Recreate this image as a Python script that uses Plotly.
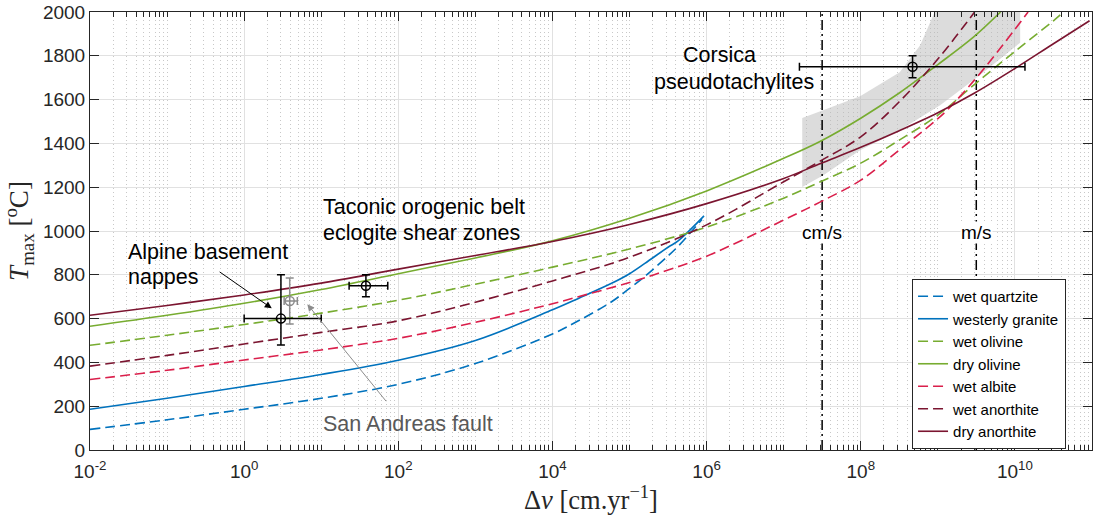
import math
import plotly.graph_objects as go

# ---- flow-law curves: slip velocity [cm/yr] -> maximum temperature [degC]
v_wet_quartzite = [1e-2, 1e-1, 1e0, 1e1, 1e2, 1e3, 1e4, 2.17e4, 5.85e4, 1e5, 1.58e5, 3.16e5, 4.27e5, 8.7e5]
T_wet_quartzite = [94, 138, 186, 236, 300, 395, 530, 590, 677, 738, 793, 886, 930, 1053]

v_westerly_granite = [1e-2, 1e-1, 1e0, 1e1, 1e2, 1e3, 1e4, 2.17e4, 5.85e4, 1e5, 1.58e5, 3.16e5, 4.27e5, 9.25e5]
T_westerly_granite = [186, 236, 290, 345, 410, 500, 640, 692, 761, 805, 852, 926, 955, 1069]

v_wet_olivine = [1e-2, 1e-1, 1e0, 1e1, 1e2, 1e3, 1e4, 1e5, 1e6, 1e7, 3.0e7, 1e8, 3.16e8,
                 1e9, 3.0e9, 1e10, 3.16e10, 4.27e10]
T_wet_olivine = [478, 524, 573, 625, 684, 757, 835, 918, 1018, 1150, 1225, 1310, 1415,
                 1529, 1670, 1820, 1960, 2000]

v_dry_olivine = [1e-2, 1e-1, 1e0, 1e1, 1e2, 1e3, 1e4, 1e5, 1e6, 1e7, 3.0e7, 1e8, 3.16e8, 1e9, 3.0e9, 6.5e9]
T_dry_olivine = [565, 615, 670, 733, 805, 877, 955, 1058, 1183, 1332, 1410, 1515, 1630, 1760, 1890, 2000]

v_wet_albite = [1e-2, 1e-1, 1e0, 1e1, 1e2, 1e3, 1e4, 2.17e4, 1e5, 3.16e5, 1e6, 1e7, 3.0e7, 1e8,
                3.16e8, 1e9, 1.38e9, 3.0e9, 6.3e9, 1.48e10]
T_wet_albite = [322, 364, 411, 457, 510, 583, 668, 700, 765, 822, 885, 1050, 1133, 1232,
                1370, 1513, 1559, 1690, 1830, 2000]

v_wet_anorthite = [1e-2, 1e-1, 1e0, 1e1, 1e2, 1e3, 1e4, 1e5, 1e6, 1e7, 3.0e7, 1e8, 3.16e8, 1e9, 3.0e9]
T_wet_anorthite = [383, 432, 484, 537, 590, 675, 772, 880, 1028, 1225, 1320, 1430, 1590, 1785, 2000]

v_dry_anorthite = [1e-2, 1e-1, 1e0, 1e1, 1e2, 1e3, 1e4, 1e5, 1e6, 1e7, 3.0e7, 1e8, 3.16e8, 1e9,
                   3.0e9, 1e10, 3.16e10, 9.3e10]
T_dry_anorthite = [615, 660, 708, 762, 826, 888, 952, 1030, 1125, 1240, 1308, 1382, 1458, 1540,
                   1630, 1742, 1855, 1960]

# ---- field estimates: centre, velocity range, temperature range
alpine_v, alpine_v_lo, alpine_v_hi = 3.0, 1.0, 10.0
alpine_T, alpine_T_lo, alpine_T_hi = 600, 480, 800

sanandreas_v, sanandreas_v_lo, sanandreas_v_hi = 3.9, 3.3, 4.9
sanandreas_T, sanandreas_T_lo, sanandreas_T_hi = 680, 575, 785

taconic_v, taconic_v_lo, taconic_v_hi = 38.0, 23.0, 73.0
taconic_T, taconic_T_lo, taconic_T_hi = 750, 700, 800

corsica_v, corsica_v_lo, corsica_v_hi = 4.7e8, 1.6e7, 1.35e10
corsica_T, corsica_T_lo, corsica_T_hi = 1750, 1700, 1800

# Corsica pseudotachylite envelope (outline, velocity / temperature)
corsica_band_v = [1.74e7, 1.74e7, 3.24e7, 9.8e7, 3.2e8, 5.9e8, 9.1e8, 1.17e10, 1.17e10,
                  3.5e9, 1.07e9, 3.2e8, 9.8e7, 3.27e7, 1.74e7]
corsica_band_T = [1201, 1516, 1551, 1615, 1725, 1848, 2000, 2000, 1860,
                  1711, 1574, 1460, 1369, 1255, 1201]

# reference velocities: 1 cm/s and 1 m/s expressed in cm/yr
v_cm_per_s = 3.1536e7
v_m_per_s = 3.1536e9

# axis ticks
x_tick_vals = [1e-2, 1e0, 1e2, 1e4, 1e6, 1e8, 1e10]
x_tick_text = ["10<sup>-2</sup>", "10<sup>0</sup>", "10<sup>2</sup>", "10<sup>4</sup>",
               "10<sup>6</sup>", "10<sup>8</sup>", "10<sup>10</sup>"]
y_tick_vals = [0, 200, 400, 600, 800, 1000, 1200, 1400, 1600, 1800, 2000]

BLUE = "#0072BD"
GREEN = "#77AC30"
CRIMSON = "#DA1F4B"
MAROON = "#7B1530"
AXIS = "#262626"
DASH = "10px,5px"
SANS = "Liberation Sans, Arial, sans-serif"
SERIF = "Liberation Serif, Times New Roman, serif"

fig = go.Figure()

# shaded envelope
fig.add_trace(go.Scatter(
    x=corsica_band_v, y=corsica_band_T, mode="lines", fill="toself",
    fillcolor="rgba(185,185,185,0.5)", line=dict(width=0), hoverinfo="skip",
    showlegend=False))

# vertical reference lines
for v in (v_cm_per_s, v_m_per_s):
    fig.add_trace(go.Scatter(
        x=[v, v], y=[0, 2000], mode="lines",
        line=dict(color="black", width=1.5, dash="10px,4px,2px,4px"),
        showlegend=False, hoverinfo="skip"))

curves = [
    ("wet quartzite", v_wet_quartzite, T_wet_quartzite, BLUE, DASH),
    ("westerly granite", v_westerly_granite, T_westerly_granite, BLUE, "solid"),
    ("wet olivine", v_wet_olivine, T_wet_olivine, GREEN, DASH),
    ("dry olivine", v_dry_olivine, T_dry_olivine, GREEN, "solid"),
    ("wet albite", v_wet_albite, T_wet_albite, CRIMSON, DASH),
    ("wet anorthite", v_wet_anorthite, T_wet_anorthite, MAROON, DASH),
    ("dry anorthite", v_dry_anorthite, T_dry_anorthite, MAROON, "solid"),
]
for name, vx, ty, color, dash in curves:
    fig.add_trace(go.Scatter(
        x=vx, y=ty, mode="lines", name=name,
        line=dict(color=color, width=1.6, dash=dash, shape="spline", smoothing=1.0)))


def estimate(v, vlo, vhi, t, tlo, thi, color):
    fig.add_trace(go.Scatter(
        x=[v], y=[t], mode="markers", showlegend=False,
        marker=dict(symbol="circle-open", size=9, color=color, line=dict(width=1.5, color=color)),
        error_x=dict(type="data", symmetric=False, array=[vhi - v], arrayminus=[v - vlo],
                     color=color, thickness=1.5, width=4),
        error_y=dict(type="data", symmetric=False, array=[thi - t], arrayminus=[t - tlo],
                     color=color, thickness=1.5, width=4)))


estimate(sanandreas_v, sanandreas_v_lo, sanandreas_v_hi,
         sanandreas_T, sanandreas_T_lo, sanandreas_T_hi, "#8c8c8c")
estimate(alpine_v, alpine_v_lo, alpine_v_hi, alpine_T, alpine_T_lo, alpine_T_hi, "black")
estimate(taconic_v, taconic_v_lo, taconic_v_hi, taconic_T, taconic_T_lo, taconic_T_hi, "black")
estimate(corsica_v, corsica_v_lo, corsica_v_hi, corsica_T, corsica_T_lo, corsica_T_hi, "black")

lg = math.log10


def label(text, v, t, anchor="left", size=21.5, color="black", bg=None):
    fig.add_annotation(x=lg(v), y=t, xref="x", yref="y", text=text, showarrow=False,
                       xanchor=anchor, yanchor="middle",
                       font=dict(family=SANS, size=size, color=color),
                       bgcolor=bg, borderpad=0)


label("Alpine basement", 0.030, 905)
label("nappes", 0.030, 789)
label("Taconic orogenic belt", 10.2, 1110)
label("eclogite shear zones", 10.2, 990)
label("Corsica", 1.49e6, 1804, anchor="center")
label("pseudotachylites", 2.24e6, 1682, anchor="center")
label("San Andreas fault", 10.2, 121, color="#595959")
label("cm/s", v_cm_per_s, 995, anchor="center", size=19, bg="white")
label("m/s", v_m_per_s, 995, anchor="center", size=19, bg="white")

# arrows pointing at the two small-scale estimates
fig.add_annotation(x=lg(2.28), y=647, ax=lg(0.46), ay=818, xref="x", yref="y",
                   axref="x", ayref="y", text="", showarrow=True, arrowhead=2,
                   arrowsize=1.4, arrowwidth=1, arrowcolor="black")
fig.add_annotation(x=lg(6.6), y=666, ax=lg(72), ay=216, xref="x", yref="y",
                   axref="x", ayref="y", text="", showarrow=True, arrowhead=2,
                   arrowsize=1.4, arrowwidth=1, arrowcolor="#8c8c8c")

fig.update_xaxes(
    type="log", range=[-2, 11], automargin=False,
    tickmode="array", tickvals=x_tick_vals, ticktext=x_tick_text,
    ticks="inside", ticklen=9, tickcolor=AXIS, tickwidth=1, ticklabelstandoff=4,
    showline=True, linecolor=AXIS, linewidth=1, mirror="allticks",
    showgrid=True, gridcolor="#e1e1e1", gridwidth=1,
    minor=dict(tickmode="linear", dtick="D1", ticks="inside", ticklen=5,
               tickcolor=AXIS, showgrid=True, gridcolor="#c8c8c8",
               griddash="1px,3px", gridwidth=1),
    tickfont=dict(family=SANS, size=19, color=AXIS),
    title=dict(text="\u0394<i>v</i> [cm.yr<sup>\u22121</sup>]",
               font=dict(family=SERIF, size=26.5, color=AXIS), standoff=6),
    zeroline=False)

fig.update_yaxes(
    range=[0, 2000], tickmode="array", tickvals=y_tick_vals, automargin=False,
    ticks="inside", ticklen=9, tickcolor=AXIS, tickwidth=1,
    showline=True, linecolor=AXIS, linewidth=1, mirror="allticks",
    showgrid=True, gridcolor="#e1e1e1", gridwidth=1,
    tickfont=dict(family=SANS, size=19, color=AXIS),
    title=dict(text="<i>T</i><sub>max</sub> [<sup>o</sup>C]",
               font=dict(family=SERIF, size=27, color=AXIS), standoff=8),
    zeroline=False)

fig.update_layout(
    width=1100, height=515,
    margin=dict(l=90, r=8, t=12, b=65),
    paper_bgcolor="white", plot_bgcolor="white",
    showlegend=True,
    legend=dict(x=0.8204, y=0.3904, xanchor="left", yanchor="top",
                bgcolor="white", bordercolor=AXIS, borderwidth=1,
                font=dict(family=SANS, size=15, color="black"),
                tracegroupgap=0, itemwidth=30),
)

fig.write_html("out.html")
